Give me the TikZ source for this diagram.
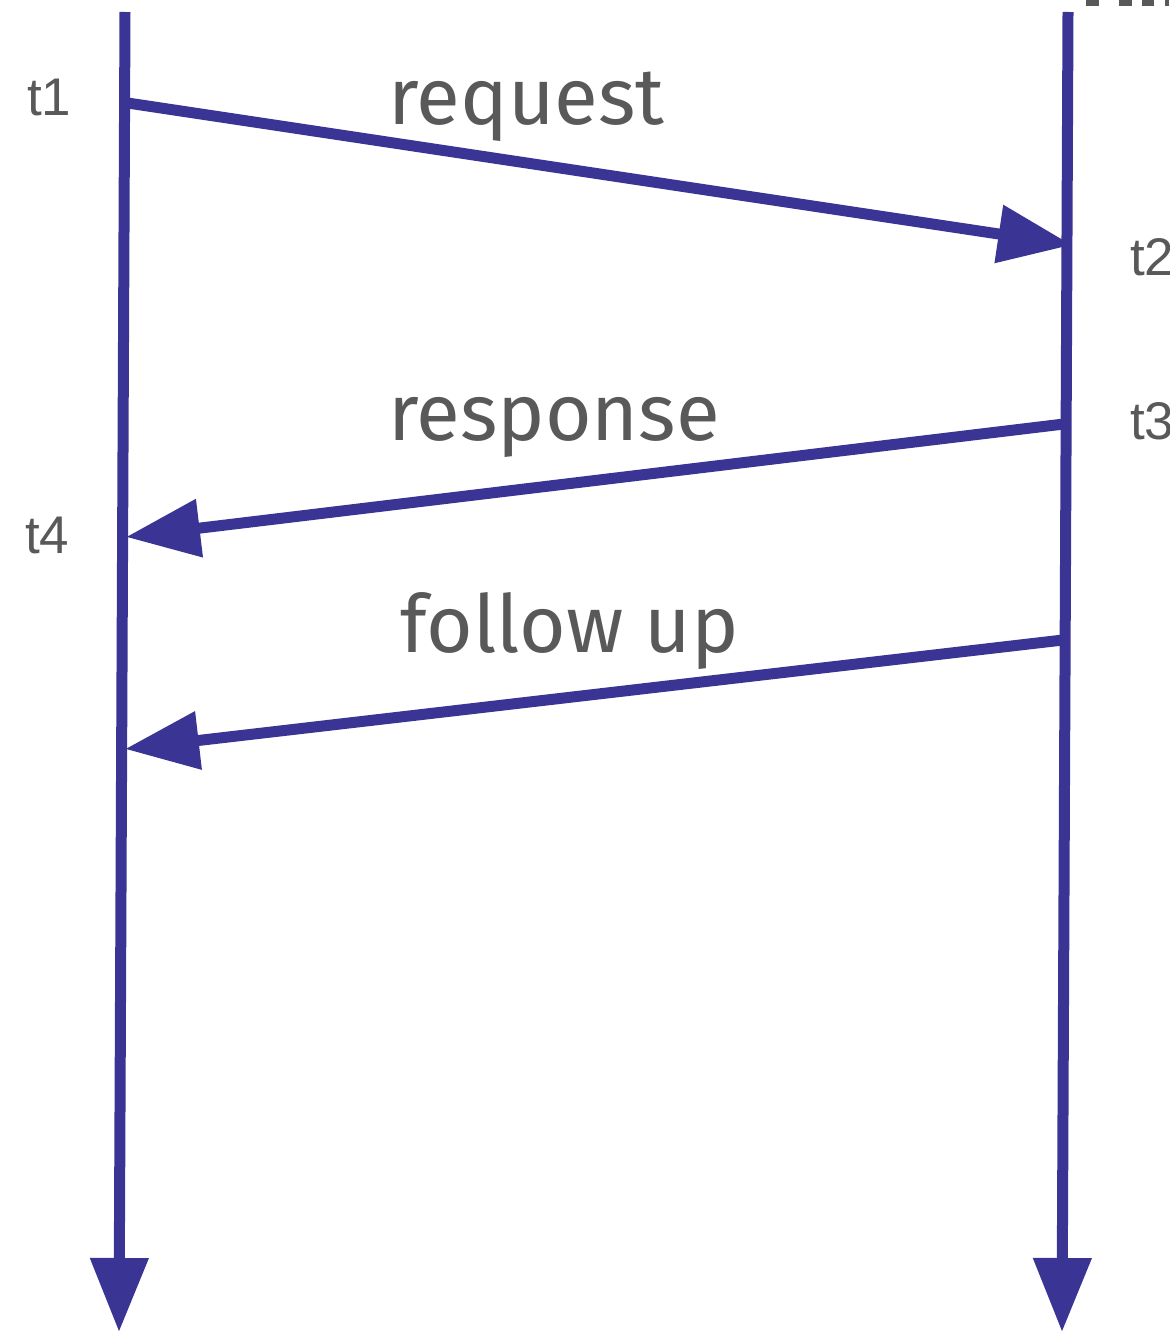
\documentclass[tikz,border=0pt]{standalone}
\usepackage{fontspec}
\setmainfont{Fira Sans}
\newfontfamily\tfont{Liberation Sans}
\usetikzlibrary{arrows.meta}
\definecolor{lineblue}{RGB}{58,53,148}
\definecolor{txtgray}{RGB}{89,89,89}
\tikzset{
  life/.style={draw=lineblue, line width=11pt, -{Triangle[length=74pt,width=56pt]}},
  msg/.style={draw=lineblue, line width=11pt, -{Triangle[length=74pt,width=56pt]}},
  msglabel/.style={text=txtgray, anchor=base west, inner sep=0pt, font=\fontsize{80}{90}\selectfont},
  tlabel/.style={text=txtgray, anchor=base west, inner sep=0pt, font=\tfont\fontsize{53}{60}\selectfont},
}
\begin{document}
\begin{tikzpicture}[x=1pt,y=-1pt]
\useasboundingbox (0,0) rectangle (1169,1332);
% lifelines
\coordinate (Ltop) at (125,12);
\coordinate (Lbot) at (119,1332);
\coordinate (Rtop) at (1068,12);
\coordinate (Rbot) at (1062,1332);
\draw[life] (Ltop) -- (Lbot);
\draw[life] (Rtop) -- (Rbot);
% message endpoints
\coordinate (t1) at (121,102);
\coordinate (t2) at (1072,245);
\coordinate (t3) at (1064,424);
\coordinate (t4) at (126,537);
\coordinate (f1) at (1063,640);
\coordinate (f2) at (125,749);
\draw[msg] (t1) -- (t2);
\draw[msg] (t3) -- (t4);
\draw[msg] (f1) -- (f2);
% labels
\node[msglabel] (lreq) at (388,125) {request};
\node[msglabel] (lresp) at (388,440) {response};
\node[msglabel] (lfol) at (400,652) {follow up};
\node[tlabel] (lt1) at (27,116) {t1};
\node[tlabel] (lt2) at (1130,275) {t2};
\node[tlabel] (lt3) at (1130,439) {t3};
\node[tlabel] (lt4) at (25,553) {t4};
% cut-off text fragments at top right
\fill[txtgray] (1086,0) rectangle (1099,6);
\fill[txtgray] (1119,0) rectangle (1132,6);
\fill[txtgray] (1142,0) rectangle (1154,6);
\fill[txtgray] (1165,0) rectangle (1169,6);
\end{tikzpicture}
\end{document}
